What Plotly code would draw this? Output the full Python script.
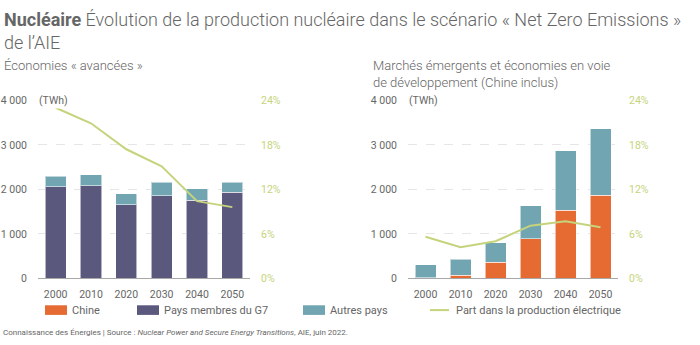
import plotly.graph_objects as go
from plotly.subplots import make_subplots

years = ["2000", "2010", "2020", "2030", "2040", "2050"]

# Économies « avancées » (TWh)
adv_g7 = [2054, 2076, 1650, 1852, 1759, 1939]
adv_autres = [238, 252, 253, 303, 252, 223]
adv_part = [23.0, 20.9, 17.4, 15.1, 10.4, 9.6]

# Marchés émergents et économies en développement (TWh)
emg_chine = [15, 65, 360, 894, 1528, 1867]
emg_autres = [295, 367, 440, 735, 1333, 1492]
emg_part = [5.6, 4.2, 5.0, 7.1, 7.7, 6.9]

y_ticks = [0, 1000, 2000, 3000, 4000]
y_ticktext = ["0", "1 000", "2 000", "3 000", "4 000"]
p_ticks = [0, 6, 12, 18, 24]
p_ticktext = ["0%", "6%", "12%", "18%", "24%"]

C_CHINE = "#e56b33"
C_G7 = "#5b587e"
C_AUTRES = "#70a5b1"
C_LINE = "#c5d47c"
C_TEXT = "#666666"
FONT = "Roboto"

W, H = 700, 345
def px(x):
    return x / W
def py(y):
    return 1 - y / H

fig = make_subplots(rows=1, cols=2, specs=[[{"secondary_y": True}, {"secondary_y": True}]])

bar_line = dict(color="rgba(255,255,255,0.55)", width=1)

fig.add_trace(go.Bar(x=years, y=adv_g7, marker=dict(color=C_G7, line=bar_line), width=0.6, name="Pays membres du G7"), row=1, col=1, secondary_y=False)
fig.add_trace(go.Bar(x=years, y=adv_autres, marker=dict(color=C_AUTRES, line=bar_line), width=0.6, name="Autres pays"), row=1, col=1, secondary_y=False)
fig.add_trace(go.Scatter(x=years, y=adv_part, mode="lines", line=dict(color=C_LINE, width=2), name="Part"), row=1, col=1, secondary_y=True)

fig.add_trace(go.Bar(x=years, y=emg_chine, marker=dict(color=C_CHINE, line=bar_line), width=0.6, name="Chine"), row=1, col=2, secondary_y=False)
fig.add_trace(go.Bar(x=years, y=emg_autres, marker=dict(color=C_AUTRES, line=bar_line), width=0.6, name="Autres pays"), row=1, col=2, secondary_y=False)
fig.add_trace(go.Scatter(x=years, y=emg_part, mode="lines", line=dict(color=C_LINE, width=2), name="Part"), row=1, col=2, secondary_y=True)

ydom = [py(283), py(98)]
fig.update_layout(
    width=W, height=H, margin=dict(l=0, r=0, t=0, b=0),
    paper_bgcolor="white", plot_bgcolor="white",
    barmode="stack", showlegend=False,
    font=dict(family=FONT, size=10, color=C_TEXT),
)

xcommon = dict(type="category", range=[-0.5, 5.5], showline=True, linecolor="#a8a8a8", linewidth=1,
               ticks="", showgrid=False, tickfont=dict(size=10.5, color=C_TEXT), ticklabelstandoff=6)
fig.update_layout(
    xaxis=dict(domain=[px(38), px(250)], **xcommon),
    xaxis2=dict(domain=[px(408), px(618)], **xcommon),
)
ycommon = dict(range=[0, 4000], tickvals=y_ticks, ticktext=y_ticktext, showgrid=True,
               gridcolor="#e6e6e6", griddash="dash", gridwidth=1, zeroline=False, showline=False,
               tickfont=dict(size=10.5, color=C_TEXT), ticklabelstandoff=10, domain=ydom)
pcommon = dict(range=[0, 24], tickvals=p_ticks, ticktext=p_ticktext, showgrid=False, zeroline=False,
               showline=False, tickfont=dict(size=10.5, color=C_LINE), ticklabelstandoff=10, domain=ydom)
fig.update_yaxes(row=1, col=1, secondary_y=False, **ycommon)
fig.update_yaxes(row=1, col=2, secondary_y=False, **ycommon)
fig.update_yaxes(row=1, col=1, secondary_y=True, **pcommon)
fig.update_yaxes(row=1, col=2, secondary_y=True, **pcommon)

P = dict(xref="paper", yref="paper", showarrow=False)
ann = []
# Title
ann.append(dict(text="<b>Nucléaire</b> Évolution de la production nucléaire dans le scénario « Net Zero Emissions »<br>de l’AIE",
                x=px(2), y=py(1), xanchor="left", yanchor="top", align="left",
                font=dict(family=FONT, size=18, color="#666666", weight=300), **P))
ann.append(dict(text="Économies « avancées »", x=px(2), y=py(52), xanchor="left", yanchor="top",
                align="left", font=dict(family=FONT, size=13, color=C_TEXT, weight=300), **P))
ann.append(dict(text="Marchés émergents et économies en voie<br>de développement (Chine inclus)", x=px(371), y=py(52),
                xanchor="left", yanchor="top", align="left",
                font=dict(family=FONT, size=13, color=C_TEXT, weight=300), **P))
for xa in (37, 407):
    ann.append(dict(text="(TWh)", x=px(xa), y=py(98), xanchor="left", yanchor="middle",
                    bgcolor="white", font=dict(family=FONT, size=10.5, color=C_TEXT), **P))
# Source
ann.append(dict(text="Connaissance des Énergies | Source : <i>Nuclear Power and Secure Energy Transitions</i>, AIE, juin 2022.",
                x=px(1), y=py(339), xanchor="left", yanchor="middle",
                font=dict(family=FONT, size=8, color=C_TEXT), **P))

# Legend
shapes = []
leg_y = 316
items = [("Chine", C_CHINE, 45, "box"), ("Pays membres du G7", C_G7, 137, "box"),
         ("Autres pays", C_AUTRES, 303, "box"), ("Part dans la production électrique", C_LINE, 430, "line")]
for label, col, x0, kind in items:
    if kind == "box":
        shapes.append(dict(type="rect", xref="paper", yref="paper", x0=px(x0), x1=px(x0 + 22),
                           y0=py(leg_y + 5), y1=py(leg_y - 5), fillcolor=col, line=dict(width=0)))
        tx = x0 + 25
    else:
        shapes.append(dict(type="line", xref="paper", yref="paper", x0=px(x0), x1=px(x0 + 19),
                           y0=py(leg_y), y1=py(leg_y), line=dict(color=col, width=2)))
        tx = x0 + 24
    ann.append(dict(text=label, x=px(tx), y=py(leg_y), xanchor="left", yanchor="middle",
                    font=dict(family=FONT, size=11, color=C_TEXT), **P))

fig.update_layout(annotations=ann, shapes=shapes)
fig.write_html("out.html")
